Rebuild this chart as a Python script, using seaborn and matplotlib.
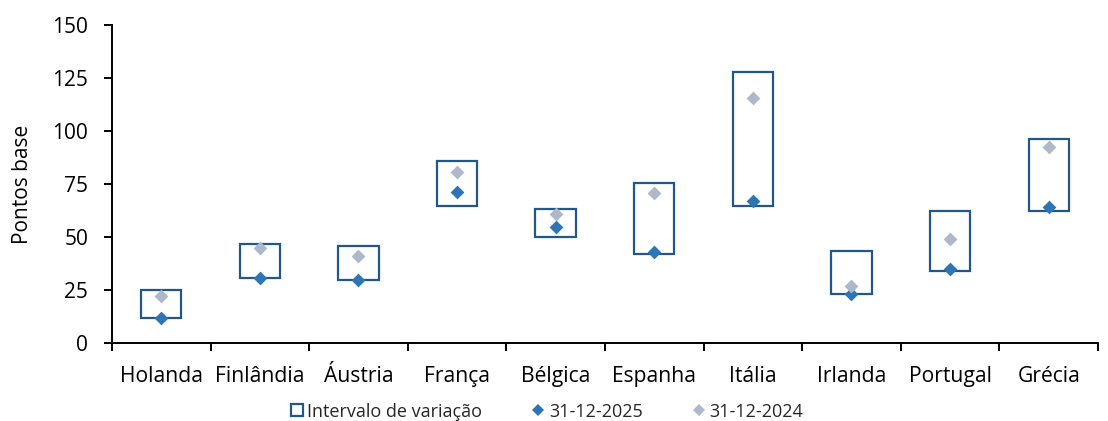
import numpy as np
import pandas as pd
import matplotlib
matplotlib.use("Agg")
import matplotlib.pyplot as plt
from matplotlib.lines import Line2D
from matplotlib.ticker import FixedLocator
import seaborn as sns

# Spread data (basis points) per country
countries = ["Holanda", "Finlândia", "Áustria", "França", "Bélgica",
             "Espanha", "Itália", "Irlanda", "Portugal", "Grécia"]
range_low = [12.0, 30.5, 29.7, 64.6, 49.8, 41.9, 64.8, 23.3, 33.9, 62.2]
range_high = [25.0, 46.9, 46.0, 86.0, 63.3, 75.6, 128.0, 43.2, 62.2, 96.4]
spread_2025 = [12.0, 30.5, 29.7, 71.0, 54.8, 43.0, 67.0, 23.2, 34.8, 64.3]
spread_2024 = [22.3, 44.7, 41.0, 80.8, 60.9, 70.9, 115.3, 26.9, 49.1, 92.3]
y_ticks = [0, 25, 50, 75, 100, 125, 150]

df = pd.DataFrame({
    "pais": countries,
    "low": range_low,
    "amplitude": np.array(range_high) - np.array(range_low),
    "v2025": spread_2025,
    "v2024": spread_2024,
})

sns.set_theme(style="white")
plt.rcParams["font.family"] = ["Open Sans", "DejaVu Sans"]

BOX_EDGE = "#22578a"
DARK = "#2e75b6"
LIGHT = "#adb9ca"

fig = plt.figure(figsize=(11.08, 4.21), dpi=100)
ax = fig.add_axes([0.101, 0.185, 0.89, 0.756])

# Range boxes: bar from the low value spanning the amplitude
sns.barplot(data=df, x="pais", y="amplitude", bottom=df["low"].values,
            width=0.41, color="white", saturation=1, edgecolor=BOX_EDGE,
            linewidth=1.6, ax=ax, zorder=2)

# Point values
sns.stripplot(data=df, x="pais", y="v2025", marker="D", jitter=False,
              color=DARK, size=7, linewidth=0, ax=ax, zorder=3)
sns.stripplot(data=df, x="pais", y="v2024", marker="D", jitter=False,
              color=LIGHT, size=7, linewidth=0, ax=ax, zorder=4)

ax.set_xlim(-0.5, len(countries) - 0.5)
ax.set_ylim(0, 150)
ax.set_yticks(y_ticks)
ax.set_yticklabels([str(t) for t in y_ticks])
ax.set_xlabel("")
ax.set_ylabel("Pontos base", fontsize=15, labelpad=14, color="black")

for side in ("top", "right"):
    ax.spines[side].set_visible(False)
for side in ("left", "bottom"):
    ax.spines[side].set_color("black")
    ax.spines[side].set_linewidth(1.4)

ax.xaxis.set_minor_locator(FixedLocator(np.arange(-0.5, len(countries), 1.0)))
ax.tick_params(axis="x", which="major", length=0, labelsize=15.2, pad=16.5,
               colors="black")
ax.tick_params(axis="x", which="minor", length=6, width=1.4, direction="out",
               color="black", bottom=True)
ax.tick_params(axis="y", length=6, width=1.4, direction="out", labelsize=15,
               colors="black", left=True, pad=11)

handles = [
    Line2D([], [], linestyle="none", marker="s", markersize=8.5,
           markerfacecolor="white", markeredgecolor=BOX_EDGE,
           markeredgewidth=1.6),
    Line2D([], [], linestyle="none", marker="D", markersize=6,
           color=DARK, markeredgewidth=0),
    Line2D([], [], linestyle="none", marker="D", markersize=6,
           color=LIGHT, markeredgewidth=0),
]
fig.legend(handles, ["Intervalo de variação", "31-12-2025", "31-12-2024"],
           loc="center", bbox_to_anchor=(0.494, 0.022), ncol=3,
           frameon=False, fontsize=13, handlelength=0.6, handletextpad=0.3,
           columnspacing=2.8)

fig.savefig("out.png", dpi=100)
